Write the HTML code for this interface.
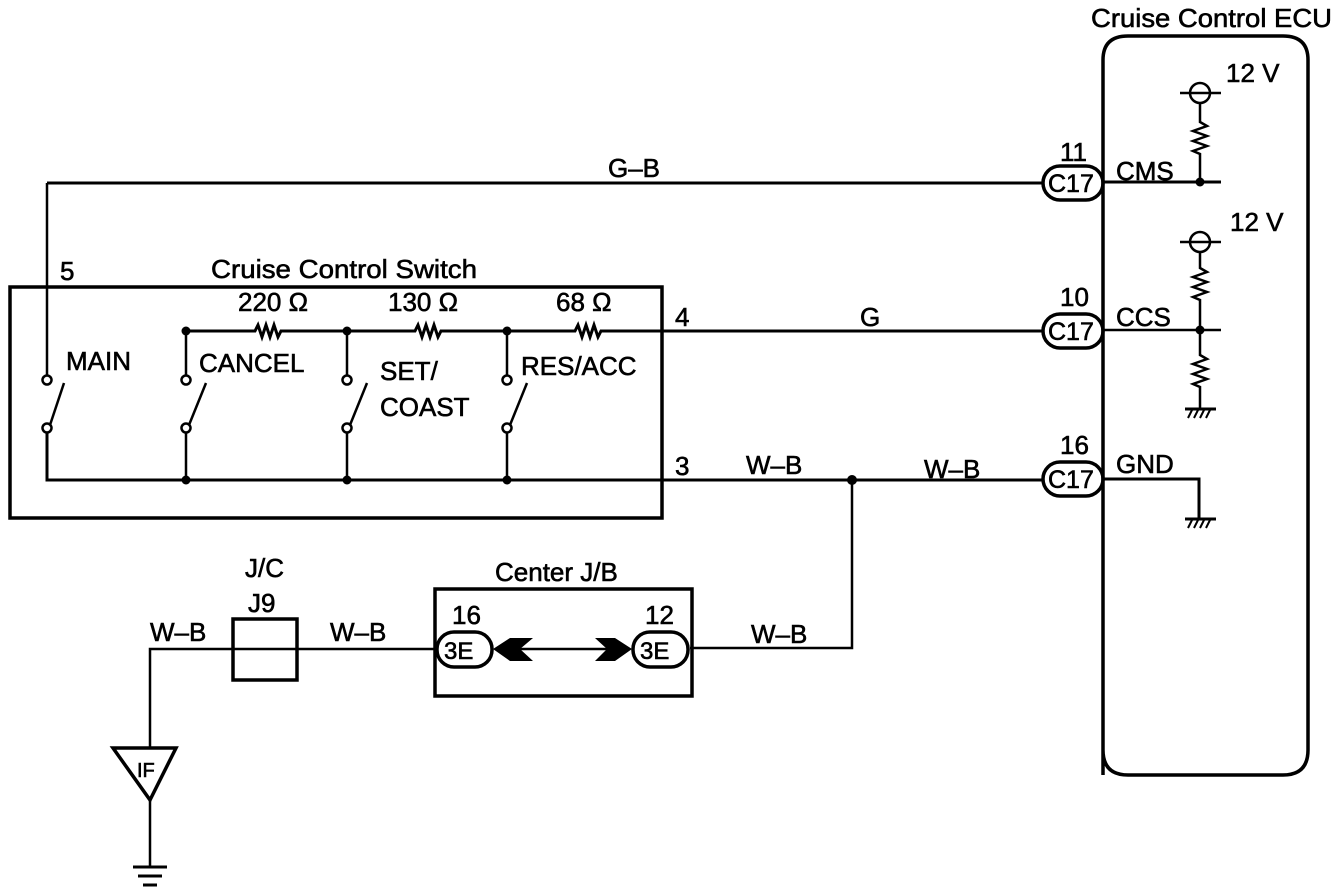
<!DOCTYPE html>
<html><head><meta charset="utf-8"><style>
html,body{margin:0;padding:0;background:#fff;}
svg{display:block;}
text{font-family:"Liberation Sans",Arial,sans-serif;fill:#000;stroke:#000;stroke-width:0.6;}
</style></head><body>
<svg width="1344" height="892" viewBox="0 0 1344 892" xmlns="http://www.w3.org/2000/svg">
<g stroke="#000" fill="none" stroke-width="2.5">
<path d="M1103,775 V60 Q1103,36 1128,36 H1283 Q1308,36 1308,60 V750 Q1308,775 1283,775 H1128 Q1103,775 1103,750" stroke-width="3.5"/>
<path d="M47,183 H1043" stroke-width="3"/>
<path d="M47,183 V375"/>
<rect x="10" y="287" width="652" height="231" stroke-width="3.5"/>
<path d="M186,331 H255 l3,-6 l4,12 l4,-12 l4,12 l4,-12 l4,12 l3,-6 H415 l3,-6 l4,12 l4,-12 l4,12 l4,-12 l4,12 l3,-6 H575 l3,-6 l4,12 l4,-12 l4,12 l4,-12 l4,12 l3,-6 H1043" stroke-width="3"/>
<path d="M47,433 V480 H1043" stroke-width="3"/>
<path d="M186,331 V375 M186,433 V480 M347,331 V375 M347,433 V480 M507,331 V375 M507,433 V480"/>
<g stroke-width="2.5">
<circle cx="47" cy="380" r="4.5"/><circle cx="47" cy="428" r="4.5"/><path d="M50,425 L64,383"/>
<circle cx="186" cy="380" r="4.5"/><circle cx="186" cy="428" r="4.5"/><path d="M189,425 L206,383"/>
<circle cx="347" cy="380" r="4.5"/><circle cx="347" cy="428" r="4.5"/><path d="M350,425 L367,383"/>
<circle cx="507" cy="380" r="4.5"/><circle cx="507" cy="428" r="4.5"/><path d="M510,425 L527,383"/>
</g>
<path d="M852,480 V648 H690"/>
<rect x="1043" y="166" width="60" height="34" rx="17" stroke-width="3.5"/>
<rect x="1043" y="314" width="60" height="34" rx="17" stroke-width="3.5"/>
<rect x="1043" y="462" width="60" height="34" rx="17" stroke-width="3.5"/>
<path d="M1103,182 H1221" stroke-width="3"/>
<circle cx="1200" cy="93" r="10"/>
<path d="M1180,93 H1221 M1200,103 V122 l7,4 l-14,5 l14,5 l-14,5 l14,5 l-14,5 l7,3 V182"/>
<path d="M1103,330 H1221"/>
<circle cx="1200" cy="242" r="10"/>
<path d="M1180,242 H1221 M1200,252 V268 l7,4 l-14,5 l14,5 l-14,5 l14,5 l-14,5 l7,3 V355 l7,4 l-14,5 l14,5 l-14,5 l14,5 l-14,5 l7,3 V409"/>
<path d="M1185,409 H1216" stroke-width="3"/>
<path d="M1188,418 l4,-8 M1194,418 l4,-8 M1200,418 l4,-8 M1206,418 l4,-8" stroke-width="2"/>
<path d="M1103,479 H1199 V519" stroke-width="3"/>
<path d="M1185,519 H1216" stroke-width="3"/>
<path d="M1188,528 l4,-8 M1194,528 l4,-8 M1200,528 l4,-8 M1206,528 l4,-8" stroke-width="2"/>
<rect x="435" y="589" width="257" height="107" stroke-width="3.5"/>
<rect x="437" y="632" width="55" height="35" rx="17" stroke-width="3.5"/>
<rect x="633" y="632" width="55" height="35" rx="17" stroke-width="3.5"/>
<path d="M520,649 H607"/>
<rect x="233" y="619" width="64" height="61" stroke-width="3.5"/>
<path d="M435,649 H150 V747"/>
<path d="M113,748 H176 L150,800 Z" stroke-width="3.5"/>
<path d="M150,800 V866"/>
<path d="M133,867 H167 M138,876 H162 M143,885 H157" stroke-width="3"/>
</g>
<g fill="#000">
<circle cx="186" cy="331" r="4.5"/><circle cx="347" cy="331" r="4.5"/><circle cx="507" cy="331" r="4.5"/>
<circle cx="186" cy="480" r="4.5"/><circle cx="347" cy="480" r="4.5"/><circle cx="507" cy="480" r="4.5"/>
<circle cx="852" cy="480" r="5"/>
<circle cx="1200" cy="182" r="4.5"/><circle cx="1200" cy="330" r="4.5"/>
<path d="M493,649 L510,638 L533,638 L520,649 L533,661 L510,661 Z"/>
<path d="M632,649 L615,638 L595,638 L607,649 L595,661 L615,661 Z"/>
</g>
<g font-size="26">
<text x="1091" y="27" textLength="241" lengthAdjust="spacingAndGlyphs">Cruise Control ECU</text>
<text x="1226" y="82">12 V</text>
<text x="1230" y="231">12 V</text>
<text x="1060" y="161">11</text>
<text x="1116" y="180">CMS</text>
<text x="1060" y="306">10</text>
<text x="1116" y="326">CCS</text>
<text x="1060" y="454">16</text>
<text x="1116" y="473">GND</text>
<text x="1048" y="192" font-size="25">C17</text>
<text x="1048" y="340" font-size="25">C17</text>
<text x="1048" y="488" font-size="25">C17</text>
<text x="608" y="177">G–B</text>
<text x="60" y="280">5</text>
<text x="211" y="278" textLength="266" lengthAdjust="spacingAndGlyphs">Cruise Control Switch</text>
<text x="238" y="311">220 Ω</text>
<text x="388" y="311">130 Ω</text>
<text x="556" y="311">68 Ω</text>
<text x="66" y="370">MAIN</text>
<text x="199" y="372">CANCEL</text>
<text x="380" y="380">SET/</text>
<text x="380" y="416">COAST</text>
<text x="521" y="375">RES/ACC</text>
<text x="675" y="326">4</text>
<text x="860" y="326">G</text>
<text x="675" y="475">3</text>
<text x="746" y="474">W–B</text>
<text x="924" y="478">W–B</text>
<text x="751" y="643">W–B</text>
<text x="495" y="581">Center J/B</text>
<text x="452" y="624">16</text>
<text x="645" y="624">12</text>
<text x="444" y="659" font-size="24">3E</text>
<text x="640" y="659" font-size="24">3E</text>
<text x="245" y="577">J/C</text>
<text x="248" y="612">J9</text>
<text x="150" y="641">W–B</text>
<text x="330" y="641">W–B</text>
<text x="137" y="777" font-size="20">IF</text>
</g>
</svg>
</body></html>
